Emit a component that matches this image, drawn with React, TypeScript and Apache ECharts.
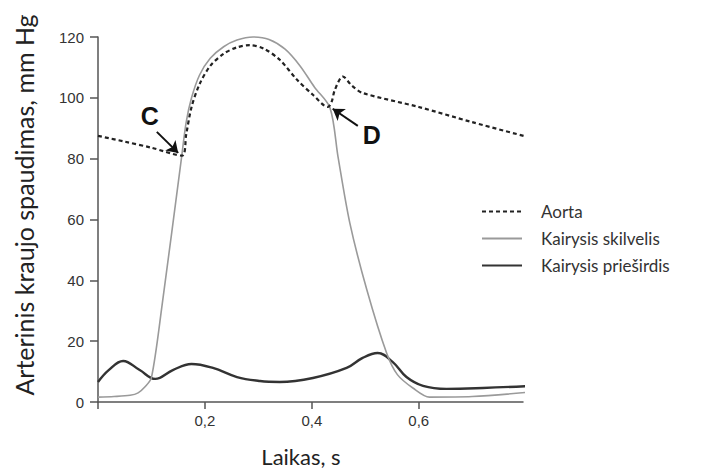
import React, { useEffect, useRef } from "react";
import * as echarts from "echarts";

// Laikas (s) and pressures (mm Hg)
const aortaTime = [0, 0.05, 0.1, 0.157, 0.165, 0.175, 0.19, 0.21, 0.235, 0.26, 0.284, 0.31, 0.34, 0.372, 0.402, 0.43, 0.437, 0.443, 0.458, 0.475, 0.495, 0.6, 0.7, 0.811];
const aortaValues = [87.5, 85.6, 83.6, 81, 88, 97, 104.5, 110.5, 114.5, 116.6, 117.3, 116.2, 112.5, 106, 101, 97, 98.7, 102.6, 107, 104, 101.6, 97, 92, 86.8];

const ventricleTime = [0, 0.03, 0.06, 0.075, 0.088, 0.1, 0.12, 0.156, 0.165, 0.175, 0.19, 0.21, 0.235, 0.26, 0.29, 0.32, 0.35, 0.378, 0.405, 0.434, 0.449, 0.471, 0.503, 0.54, 0.56, 0.589, 0.62, 0.7, 0.811];
const ventricleValues = [1.6, 1.8, 2.2, 3, 5, 8, 32, 80, 92, 100, 107.5, 113, 116.8, 119, 120, 119.2, 116, 110.5, 103.5, 96.7, 80.6, 58.9, 36.8, 16, 9, 4.6, 1.6, 1.8, 3.3];

const atriumTime = [0, 0.02, 0.047, 0.078, 0.107, 0.14, 0.175, 0.215, 0.26, 0.303, 0.34, 0.402, 0.465, 0.495, 0.523, 0.551, 0.577, 0.608, 0.652, 0.72, 0.811];
const atriumValues = [6.6, 10.5, 13.5, 10.5, 7.6, 10.5, 12.5, 11.2, 8.2, 6.9, 6.6, 7.9, 11.2, 14.5, 16.1, 13.2, 8.2, 5.3, 4.3, 4.6, 5.3];

const seriesNames = ["Aorta", "Kairysis skilvelis", "Kairysis prieširdis"];
const xTickLabels = [0.2, 0.4, 0.6];
const xTicks = [0, 0.2, 0.4, 0.6];

// annotation points (time, pressure)
const labelC = [0.097, 94];
const labelD = [0.512, 87.8];
const arrowC = [[0.11, 88.8], [0.15, 81.9]];
const arrowD = [[0.486, 90.8], [0.439, 96.4]];

const pairs = (t: number[], v: number[]) => t.map((x, i) => [x, v[i]]);

export default function App() {
  const ref = useRef<HTMLDivElement>(null);
  useEffect(() => {
    const chart = echarts.init(ref.current!, null, { renderer: "svg" });
    const axisColor = "#555";
    chart.setOption({
      animation: false,
      backgroundColor: "#fff",
      grid: { left: 98, right: 181, top: 37, bottom: 68, containLabel: false },
      legend: {
        orient: "vertical",
        left: 481,
        top: 203,
        itemWidth: 40,
        itemHeight: 14,
        itemGap: 10,
        padding: 0,
        data: seriesNames,
        itemStyle: { opacity: 0 },
        textStyle: { fontFamily: "Lato", fontSize: 17, color: "#333", padding: [0, 0, 0, 14] },
      },
      xAxis: {
        type: "value",
        min: 0,
        max: 0.795,
        interval: 0.2,
        splitLine: { show: false },
        axisLine: { lineStyle: { color: axisColor, width: 1.5 } },
        axisTick: { length: 7, customValues: xTicks, lineStyle: { color: axisColor, width: 1.5 } },
        axisLabel: {
          customValues: xTickLabels,
          margin: 11,
          fontSize: 15,
          fontFamily: "Liberation Sans",
          color: "#333",
          formatter: (v: number) => v.toFixed(1).replace(".", ","),
        },
      },
      yAxis: {
        type: "value",
        min: 0,
        max: 120,
        interval: 20,
        splitLine: { show: false },
        axisLine: { lineStyle: { color: axisColor, width: 1.5 } },
        axisTick: { length: 8, lineStyle: { color: axisColor, width: 1.5 } },
        axisLabel: { margin: 14, fontSize: 15, fontFamily: "Liberation Sans", color: "#333" },
      },
      graphic: [
        {
          type: "text",
          x: 24,
          y: 205,
          rotation: Math.PI / 2,
          style: {
            text: "Arterinis kraujo spaudimas, mm Hg",
            fontFamily: "Lato",
            fontSize: 25,
            fill: "#222",
            align: "center",
            verticalAlign: "middle",
          },
        },
        {
          type: "text",
          x: 301,
          y: 456,
          style: {
            text: "Laikas, s",
            fontFamily: "Lato",
            fontSize: 22,
            fill: "#222",
            align: "center",
            verticalAlign: "middle",
          },
        },
      ],
      series: [
        {
          name: seriesNames[0],
          type: "line",
          data: pairs(aortaTime, aortaValues),
          smooth: 0.3,
          symbol: "none",
          clip: false,
          z: 4,
          lineStyle: { color: "#222", width: 2.2, type: [4, 3] },
          itemStyle: { color: "#222" },
          markLine: {
            silent: true,
            symbol: ["none", "arrow"],
            symbolSize: 11,
            label: { show: false },
            lineStyle: { color: "#111", width: 2, type: "solid" },
            data: [
              [{ coord: arrowC[0] }, { coord: arrowC[1] }],
              [{ coord: arrowD[0] }, { coord: arrowD[1] }],
            ],
          },
          markPoint: {
            symbol: "circle",
            symbolSize: 0,
            silent: true,
            label: {
              show: true,
              position: "inside",
              formatter: "{b}",
              fontSize: 25,
              fontWeight: "bold",
              fontFamily: "Liberation Sans",
              color: "#111",
            },
            data: [
              { name: "C", coord: labelC },
              { name: "D", coord: labelD },
            ],
          },
        },
        {
          name: seriesNames[1],
          type: "line",
          data: pairs(ventricleTime, ventricleValues),
          smooth: 0.3,
          symbol: "none",
          clip: false,
          z: 3,
          lineStyle: { color: "#9a9a9a", width: 1.6 },
          itemStyle: { color: "#9a9a9a" },
        },
        {
          name: seriesNames[2],
          type: "line",
          data: pairs(atriumTime, atriumValues),
          smooth: 0.4,
          symbol: "none",
          clip: false,
          z: 2,
          lineStyle: { color: "#333", width: 2.4 },
          itemStyle: { color: "#333" },
        },
      ],
    });
    return () => chart.dispose();
  }, []);
  return <div ref={ref} style={{ width: 704, height: 470, position: "absolute", left: 0, top: 0 }} />;
}
